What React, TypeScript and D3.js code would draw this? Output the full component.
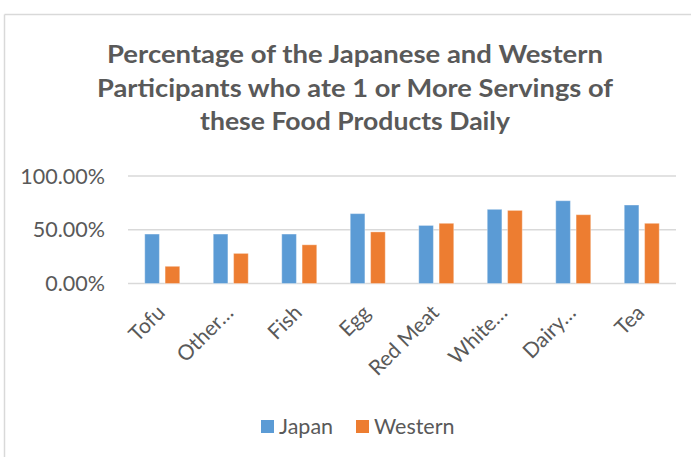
import React from "react";
import * as d3 from "d3";

// Share of participants eating one or more servings per day
const categories = ["Tofu", "Other\u2026", "Fish", "Egg", "Red Meat", "White\u2026", "Dairy\u2026", "Tea"];
const japanValues = [0.46, 0.46, 0.46, 0.65, 0.54, 0.69, 0.77, 0.73];
const westernValues = [0.16, 0.28, 0.36, 0.48, 0.56, 0.68, 0.64, 0.56];
const seriesNames = ["Japan", "Western"];
const seriesColors = ["#5B9BD5", "#ED7D31"];
const yTicks = [0, 0.5, 1];
const titleLines = [
  "Percentage of the Japanese and Western",
  "Participants who ate 1 or More Servings of",
  "these Food Products Daily",
];

const W = 691;
const H = 457;
const FONT = "Lato, 'Open Sans', sans-serif";
const TEXT = "#595959";

export default function App() {
  const x = d3.scaleBand<string>().domain(categories).range([128, 676]);
  const y = d3.scaleLinear().domain([0, 1]).range([283.5, 176]);
  const inner = d3
    .scaleBand<string>()
    .domain(seriesNames)
    .range([0, 35])
    .paddingInner(0.28);
  const groupOffset = (x.bandwidth() - 35) / 2;
  const fmt = d3.format(".2%");
  const series = [japanValues, westernValues];
  const titleWidths = [496, 516, 310];

  return (
    <svg
      width={W}
      height={H}
      style={{ position: "absolute", left: 0, top: 0, background: "#fff" }}
      fontFamily={FONT}
    >
      {/* chart frame edges */}
      <line x1={4.5} x2={W} y1={14.5} y2={14.5} stroke="#d9d9d9" strokeWidth={1.5} />
      <line x1={4.5} x2={4.5} y1={14.5} y2={H} stroke="#d9d9d9" strokeWidth={1.5} />

      {/* title */}
      {titleLines.map((t, i) => (
        <text
          key={t}
          x={355}
          y={63 + i * 33.5}
          textAnchor="middle"
          fontSize={24}
          fontWeight="bold"
          fill={TEXT}
          textLength={titleWidths[i]}
          lengthAdjust="spacingAndGlyphs"
        >
          {t}
        </text>
      ))}

      {/* gridlines and value axis */}
      {yTicks.map((v) => (
        <g key={v}>
          <line
            x1={128}
            x2={676}
            y1={y(v)}
            y2={y(v)}
            stroke="#d9d9d9"
            strokeWidth={1.5}
          />
          <text
            x={105}
            y={y(v) + 7.5}
            textAnchor="end"
            fontSize={21.5}
            fill={TEXT}
          >
            {fmt(v)}
          </text>
        </g>
      ))}

      {/* bars */}
      {categories.map((c, ci) => (
        <g key={c}>
          {series.map((vals, si) => (
            <rect
              key={si}
              x={(x(c) ?? 0) + groupOffset + (inner(seriesNames[si]) ?? 0)}
              y={y(vals[ci])}
              width={inner.bandwidth()}
              height={y(0) - y(vals[ci])}
              fill={seriesColors[si]}
              stroke="#ffffff"
              strokeOpacity={0.35}
              strokeWidth={1}
            />
          ))}
        </g>
      ))}

      {/* category labels */}
      {categories.map((c) => {
        const cx = (x(c) ?? 0) + x.bandwidth() / 2;
        return (
          <text
            key={c}
            transform={`translate(${cx + 4},${314}) rotate(-45)`}
            textAnchor="end"
            fontSize={21}
            fill={TEXT}
          >
            {c}
          </text>
        );
      })}

      {/* legend */}
      {seriesNames.map((s, i) => {
        const lx = i === 0 ? 261 : 356;
        return (
          <g key={s}>
            <rect x={lx} y={420} width={13} height={13} fill={seriesColors[i]} />
            <text x={lx + 18} y={434} fontSize={21.5} fill={TEXT}>
              {s}
            </text>
          </g>
        );
      })}
    </svg>
  );
}
